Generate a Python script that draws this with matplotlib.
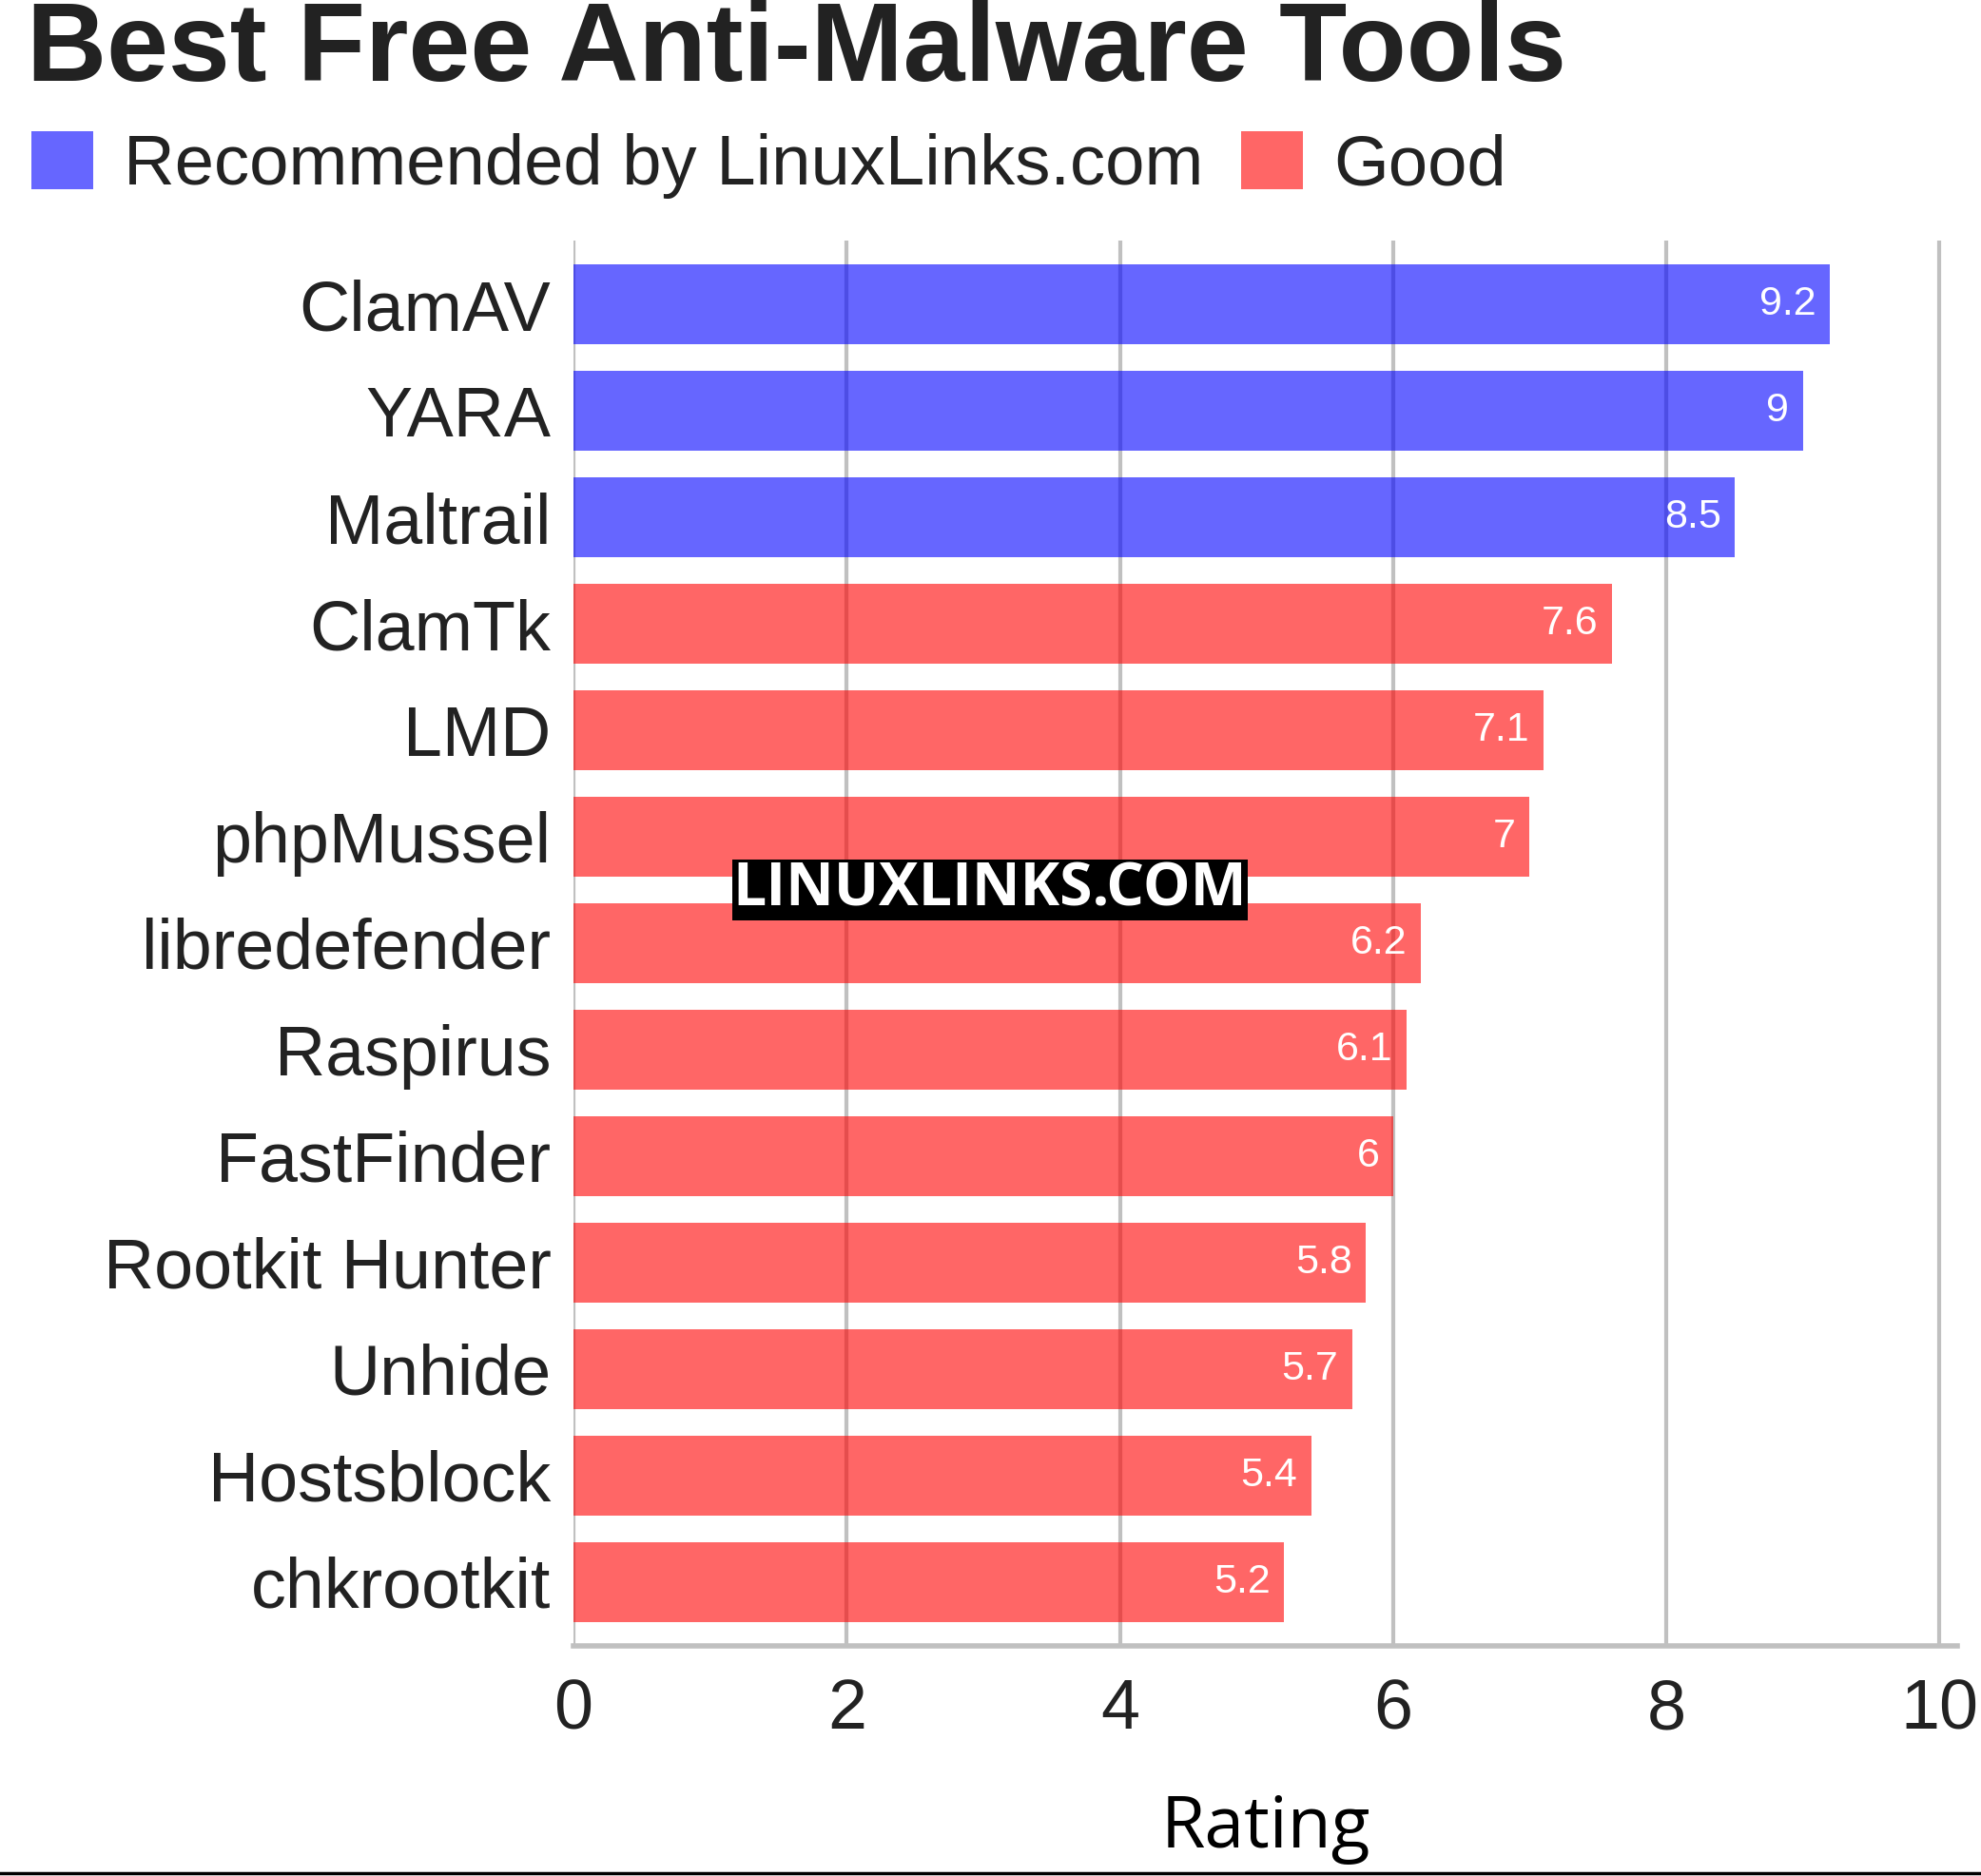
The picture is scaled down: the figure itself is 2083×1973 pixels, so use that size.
import matplotlib

matplotlib.use("Agg")
import matplotlib.pyplot as plt
from matplotlib.lines import Line2D
from matplotlib.patches import Patch

tools = [
    "ClamAV", "YARA", "Maltrail", "ClamTk", "LMD", "phpMussel", "libredefender",
    "Raspirus", "FastFinder", "Rootkit Hunter", "Unhide", "Hostsblock", "chkrootkit",
]
ratings = [9.2, 9, 8.5, 7.6, 7.1, 7, 6.2, 6.1, 6, 5.8, 5.7, 5.4, 5.2]
groups = ["rec", "rec", "rec"] + ["good"] * 10
group_labels = {"rec": "Recommended by LinuxLinks.com", "good": "Good"}
group_colors = {"rec": "blue", "good": "red"}
x_ticks = [0, 2, 4, 6, 8, 10]

TEXT = "#222222"
GRID = "#c0c0c0"

fig = plt.figure(figsize=(20.83, 19.73), dpi=100)
ax = fig.add_axes([0.2895, 0.1227, 0.6985, 0.7491])

positions = list(range(len(tools)))
ax.barh(
    positions,
    ratings,
    height=0.75,
    color=[group_colors[g] for g in groups],
    alpha=0.6,
    linewidth=0,
    zorder=2,
)

for pos, value in zip(positions, ratings):
    ax.text(
        value - 0.1, pos, f"{value:g}",
        ha="right", va="center", color="white",
        fontsize=31, family="Liberation Sans", zorder=3,
    )

ax.set_ylim(len(tools) - 0.4, -0.6)
ax.set_xlim(0, 10.13)
ax.set_yticks(positions)
ax.set_yticklabels(tools, family="Liberation Sans", fontsize=53, color=TEXT)
ax.set_xticks(x_ticks)
ax.set_xticklabels([str(t) for t in x_ticks], family="Liberation Sans",
                   fontsize=53, color=TEXT)
ax.tick_params(axis="both", length=0)
ax.tick_params(axis="x", pad=24)
ax.tick_params(axis="y", pad=17)

ax.set_axisbelow(True)
ax.grid(axis="x", color=GRID, linewidth=3)
for side in ("top", "right", "left"):
    ax.spines[side].set_visible(False)
ax.spines["bottom"].set_color(GRID)
ax.spines["bottom"].set_linewidth(4)

ax.set_xlabel("Rating", family="Open Sans", fontsize=54, color="black", labelpad=38)

fig.text(0.0135, 0.957, "Best Free Anti-Malware Tools", family="Liberation Sans",
         fontweight="bold", fontsize=84, color=TEXT, ha="left", va="baseline")

handles = [Patch(facecolor=group_colors[k], alpha=0.6, linewidth=0) for k in group_labels]
fig.legend(
    handles, list(group_labels.values()),
    loc="upper left", bbox_to_anchor=(0.0157, 0.930), ncol=2, frameon=False,
    prop={"family": "Liberation Sans", "size": 53.5},
    handlelength=0.88, handleheight=0.88, handletextpad=0.43,
    columnspacing=0.53, borderpad=0, borderaxespad=0, labelcolor=TEXT,
)

fig.text(0.4997, 0.5255, "LINUXLINKS.COM", family="Open Sans", fontweight="bold",
         fontsize=45, color="white", ha="center", va="center",
         bbox={"facecolor": "black", "edgecolor": "none", "pad": 0.5})

fig.add_artist(Line2D([0, 1], [0.0015, 0.0015], color="black", linewidth=2.5,
                      transform=fig.transFigure))

fig.savefig("out.png", dpi=100)
